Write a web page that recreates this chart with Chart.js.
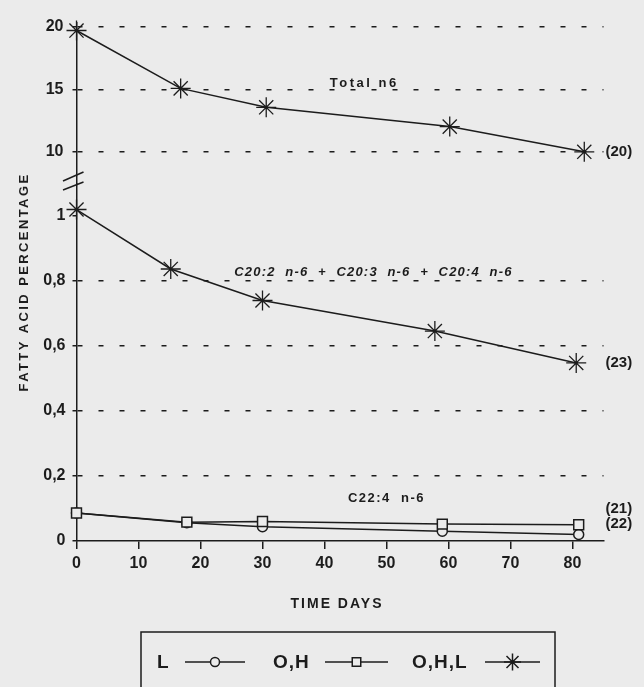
<!DOCTYPE html>
<html>
<head>
<meta charset="utf-8">
<script src="https://cdn.jsdelivr.net/npm/chart.js@4.4.1/dist/chart.umd.min.js"></script>
<style>
	html, body { margin: 0; padding: 0; background: #ebebeb; }
	#wrap { width: 644px; height: 687px; }
</style>
</head>
<body>
<div id="wrap"><canvas id="chart" width="644" height="687"></canvas></div>
<script>
'use strict';

// Sampling days
var daysTotal = [0, 16.8, 30.6, 60.2, 81.9];
var daysC20 = [0, 15.2, 30, 57.8, 80.6];
var daysC22 = [0, 17.8, 30, 59, 81];

// Fatty acid percentages
var totalN6 = [19.7, 15.08, 13.57, 12.03, 10.02];   // Total n6, curve (20)
var c20Sum = [1.02, 0.837, 0.74, 0.646, 0.548];     // C20:2 + C20:3 + C20:4, curve (23)
var c22Circle = [0.086, 0.056, 0.044, 0.030, 0.020]; // C22:4 n-6, L
var c22Square = [0.086, 0.058, 0.060, 0.052, 0.050]; // C22:4 n-6, O,H

// Tick labels
var xTicks = [0, 10, 20, 30, 40, 50, 60, 70, 80];
var highTicks = [10, 15, 20];
var lowTicks = [0, 0.2, 0.4, 0.6, 0.8, 1];

var INK = '#1c1c1c';
var PAPER = '#ebebeb';
var FONT = '"Liberation Sans", Arial, sans-serif';

function points(xs, ys) {
	return xs.map(function(x, i) { return { x: x, y: ys[i] }; });
}

function series(label, xs, ys, axis, style, radius, order) {
	return {
		label: label,
		data: points(xs, ys),
		yAxisID: axis,
		borderColor: INK,
		borderWidth: 1.5,
		pointStyle: style,
		pointRadius: radius,
		pointBorderColor: INK,
		pointBackgroundColor: PAPER,
		pointBorderWidth: style === 'star' ? 1.3 : 1.5,
		tension: 0,
		fill: false,
		clip: false,
		order: order
	};
}

function fixedTicks(values) {
	return function(scale) {
		scale.ticks = values.map(function(v) { return { value: v }; });
	};
}

function yGridColor(ctx) {
	var v = ctx.tick && ctx.tick.value;
	return (v === 0 || v === 1) ? 'rgba(0,0,0,0)' : INK;
}

function spaced(ctx, text, x, y, spacing) {
	ctx.letterSpacing = spacing;
	ctx.fillText(text, x, y);
	ctx.letterSpacing = '0px';
}

// Axis break, curve notes and the boxed legend
var decor = {
	id: 'decor',
	afterDraw: function(chart) {
		var ctx = chart.ctx;
		var a = chart.chartArea;
		var sx = chart.scales.x;
		var hi = chart.scales.yHigh;
		var lo = chart.scales.yLow;

		ctx.save();
		ctx.strokeStyle = INK;
		ctx.fillStyle = INK;
		ctx.lineWidth = 1.5;

		// break marks on the y axis
		var by = hi.bottom;
		[[-3, -12], [6, -2]].forEach(function(d) {
			ctx.beginPath();
			ctx.moveTo(a.left - 13.5, by + d[0]);
			ctx.lineTo(a.left + 7, by + d[1]);
			ctx.stroke();
		});

		// notes on the curves
		ctx.textAlign = 'center';
		ctx.textBaseline = 'middle';
		ctx.font = 'bold 13px ' + FONT;
		spaced(ctx, 'Total n6', sx.getPixelForValue(46.4), hi.getPixelForValue(15.5), '2.5px');
		ctx.font = 'italic bold 13px ' + FONT;
		spaced(ctx, 'C20:2  n-6  +  C20:3  n-6  +  C20:4  n-6', sx.getPixelForValue(47.9), lo.getPixelForValue(0.825), '1.2px');
		ctx.font = 'bold 13px ' + FONT;
		spaced(ctx, 'C22:4  n-6', sx.getPixelForValue(50), lo.getPixelForValue(0.132), '1.5px');

		// curve numbers at the right
		ctx.textAlign = 'left';
		ctx.font = 'bold 15px ' + FONT;
		var rx = a.right + 2;
		ctx.fillText('(20)', rx, hi.getPixelForValue(10.02));
		ctx.fillText('(23)', rx, lo.getPixelForValue(0.548));
		ctx.fillText('(21)', rx, lo.getPixelForValue(0.1));
		ctx.fillText('(22)', rx, lo.getPixelForValue(0.052));

		// axis titles
		ctx.textAlign = 'center';
		ctx.font = 'bold 14px ' + FONT;
		spaced(ctx, 'TIME DAYS', (a.left + a.right) / 2 - 3, 604, '2px');

		ctx.save();
		ctx.translate(24, 282);
		ctx.rotate(-Math.PI / 2);
		ctx.font = 'bold 13px ' + FONT;
		spaced(ctx, 'FATTY ACID PERCENTAGE', 0, 0, '2.4px');
		ctx.restore();

		// legend box
		ctx.strokeRect(141, 632, 414, 80);
		var ly = 662;
		ctx.font = 'bold 19px ' + FONT;
		ctx.textAlign = 'left';
		var items = [
			{ text: 'L', tx: 157, x1: 185, x2: 245, style: 'circle', r: 4.5 },
			{ text: 'O,H', tx: 273, x1: 325, x2: 388, style: 'rect', r: 6 },
			{ text: 'O,H,L', tx: 412, x1: 485, x2: 540, style: 'star', r: 8.5 }
		];
		items.forEach(function(it) {
			spaced(ctx, it.text, it.tx, ly + 1, '1px');
			ctx.beginPath();
			ctx.moveTo(it.x1, ly);
			ctx.lineTo(it.x2, ly);
			ctx.stroke();
			ctx.fillStyle = PAPER;
			Chart.helpers.drawPoint(ctx, { pointStyle: it.style, radius: it.r, rotation: 0, borderWidth: 1.5 },
				(it.x1 + it.x2) / 2, ly);
			ctx.fillStyle = INK;
		});

		ctx.restore();
	}
};

var tickFont = { family: FONT, size: 16, weight: 'bold' };

new Chart(document.getElementById('chart'), {
	type: 'line',
	data: {
		datasets: [
			series('Total n6', daysTotal, totalN6, 'yHigh', 'star', 10, 0),
			series('C20:2 n-6 + C20:3 n-6 + C20:4 n-6', daysC20, c20Sum, 'yLow', 'star', 10, 0),
			series('C22:4 n-6 L', daysC22, c22Circle, 'yLow', 'circle', 5, 2),
			series('C22:4 n-6 O,H', daysC22, c22Square, 'yLow', 'rect', 7, 1)
		]
	},
	options: {
		responsive: false,
		animation: false,
		devicePixelRatio: 1,
		layout: { padding: { left: 0, top: 23, right: 40.5, bottom: 76 } },
		plugins: {
			legend: { display: false },
			tooltip: { enabled: false }
		},
		scales: {
			x: {
				type: 'linear',
				min: 0,
				max: 85,
				afterBuildTicks: fixedTicks(xTicks),
				afterFit: function(s) { s.height = 70; },
				grid: { drawOnChartArea: false, drawTicks: true, tickLength: 8, color: INK, lineWidth: 1.5 },
				border: { display: true, color: INK, width: 1.5 },
				ticks: { color: INK, font: tickFont, padding: 5, maxRotation: 0 }
			},
			yLow: {
				type: 'linear',
				position: 'left',
				stack: 'y',
				stackWeight: 357,
				weight: 0,
				min: 0,
				max: 1.0985,
				afterBuildTicks: fixedTicks(lowTicks),
				afterFit: function(s) { s.width = 76.5; },
				grid: { color: yGridColor, lineWidth: 1.5, tickLength: 4, tickColor: INK },
				border: { display: true, color: INK, width: 1.5, dash: [5, 16] },
				ticks: {
					color: INK,
					font: tickFont,
					padding: 7,
					callback: function(v) { return String(v).replace('.', ','); }
				}
			},
			yHigh: {
				type: 'linear',
				position: 'left',
				stack: 'y',
				stackWeight: 161,
				weight: 1,
				min: 7.45,
				max: 20.3,
				afterBuildTicks: fixedTicks(highTicks),
				afterFit: function(s) { s.width = 76.5; },
				grid: { color: INK, lineWidth: 1.5, tickLength: 4 },
				border: { display: true, color: INK, width: 1.5, dash: [5, 16] },
				ticks: { color: INK, font: tickFont, padding: 9 }
			}
		}
	},
	plugins: [decor]
});
</script>
</body>
</html>
